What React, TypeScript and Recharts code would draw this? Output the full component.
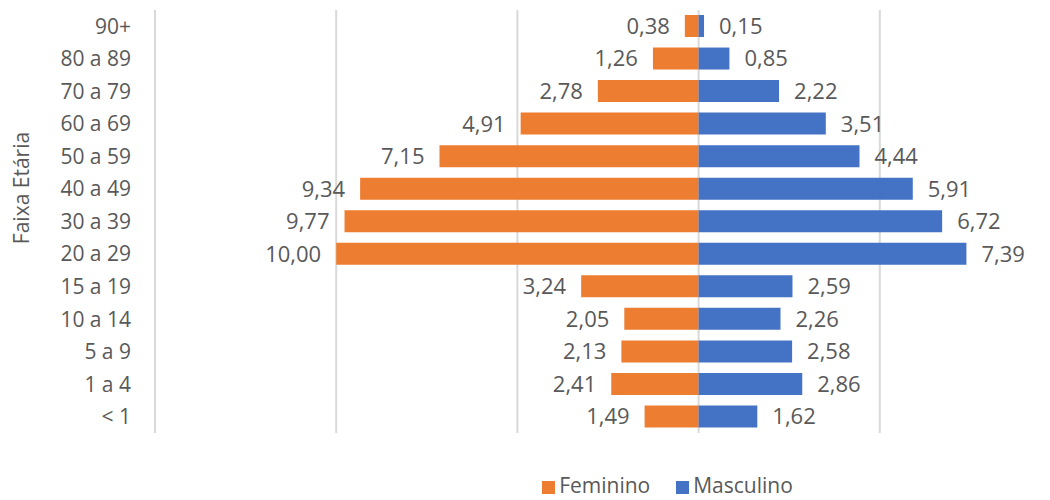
import { Bar, BarChart, CartesianGrid, LabelList, Legend, XAxis, YAxis } from "recharts";

const faixas = ["90+", "80 a 89", "70 a 79", "60 a 69", "50 a 59", "40 a 49", "30 a 39", "20 a 29", "15 a 19", "10 a 14", "5 a 9", "1 a 4", "< 1"];
const feminino = [0.38, 1.26, 2.78, 4.91, 7.15, 9.34, 9.77, 10.0, 3.24, 2.05, 2.13, 2.41, 1.49];
const masculino = [0.15, 0.85, 2.22, 3.51, 4.44, 5.91, 6.72, 7.39, 2.59, 2.26, 2.58, 2.86, 1.62];
const xTicks = [-15, -10, -5, 0, 5, 10];

const data = faixas.map((faixa, i) => ({
  faixa,
  Feminino: -feminino[i],
  Masculino: masculino[i],
}));

const FONT = "'Open Sans', sans-serif";
const TEXT = "#595959";

const fmt = (v: number) => Math.abs(v).toFixed(2).replace(".", ",");

function ValueLabel(side: "left" | "right") {
  return (props: any) => {
    const { x, y, width, height, value } = props;
    const left = Math.min(x, x + width);
    const right = Math.max(x, x + width);
    return (
      <text
        x={side === "left" ? left - 15 : right + 15}
        y={y + height / 2}
        dy="0.36em"
        textAnchor={side === "left" ? "end" : "start"}
        fontSize={22}
        fontFamily={FONT}
        fill={TEXT}
      >
        {fmt(value)}
      </text>
    );
  };
}

export default function App() {
  return (
    <div style={{ position: "absolute", left: 0, top: 0, background: "#fff", overflow: "hidden", width: 1050, height: 500 }}>
      <BarChart
        width={1050}
        height={500}
        data={data}
        layout="vertical"
        stackOffset="sign"
        barSize={22}
        margin={{ top: 10, right: -11, bottom: 67, left: 0 }}
      >
        <CartesianGrid horizontal={false} stroke="#D9D9D9" strokeWidth={2} />
        <XAxis type="number" domain={[-15, 10]} ticks={xTicks} hide />
        <YAxis
          type="category"
          dataKey="faixa"
          width={155}
          tickLine={false}
          axisLine={false}
          tickSize={0}
          tickMargin={24}
          tick={{ fontSize: 21, fontFamily: FONT, fill: TEXT }}
          label={{
            content: () => (
              <text
                transform="translate(29,188) rotate(-90)"
                textAnchor="middle"
                fontSize={21}
                fontFamily={FONT}
                fill={TEXT}
              >
                Faixa Etária
              </text>
            ),
          }}
        />
        <Legend
          verticalAlign="middle"
          layout="horizontal"
          iconType="square"
          iconSize={13}
          wrapperStyle={{ top: 471, left: 535, width: 275, fontFamily: FONT, fontSize: 21 }}
          formatter={(v: string) => (
            <span style={{ color: TEXT, marginRight: v === "Feminino" ? 16 : 0 }}>{v}</span>
          )}
        />
        <Bar dataKey="Feminino" stackId="a" fill="#ED7D31" isAnimationActive={false}>
          <LabelList dataKey="Feminino" content={ValueLabel("left")} />
        </Bar>
        <Bar dataKey="Masculino" stackId="a" fill="#4472C4" isAnimationActive={false}>
          <LabelList dataKey="Masculino" content={ValueLabel("right")} />
        </Bar>
      </BarChart>
    </div>
  );
}
